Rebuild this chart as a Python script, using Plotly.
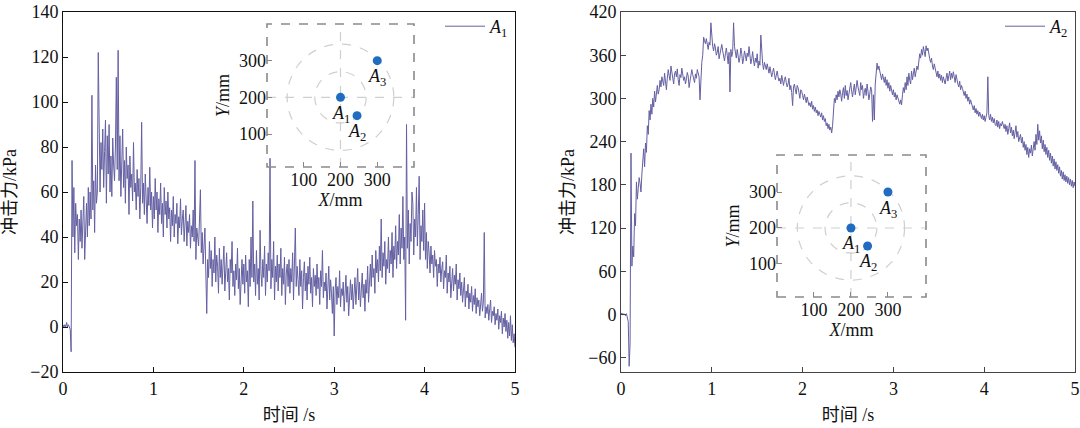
import numpy as np
import plotly.graph_objects as go

# ---------------- data ----------------
dt = 0.01
A1 = [
    1, 0, 1, 0, 2, 0, 1, 0, -1, -11, 74, 40, 62, 33, 55, 45, 50, 30, 48, 38,
    52, 35, 45, 58, 30, 42, 55, 40, 62, 45, 60, 48, 103, 52, 65, 42, 72, 55, 60, 122,
    97, 60, 82, 70, 88, 62, 78, 92, 55, 85, 68, 90, 60, 76, 58, 84, 72, 65, 80, 111,
    70, 123, 65, 85, 58, 78, 88, 62, 74, 55, 80, 66, 72, 50, 76, 62, 68, 56, 82, 60,
    64, 52, 70, 58, 66, 48, 62, 91, 55, 64, 50, 68, 58, 46, 62, 54, 71, 52, 60, 44,
    58, 48, 66, 52, 60, 42, 57, 50, 64, 46, 55, 40, 62, 50, 56, 44, 60, 48, 53, 38,
    52, 45, 58, 40, 50, 46, 55, 37, 49, 44, 57, 41, 48, 52, 38, 46, 54, 36, 47, 42,
    50, 35, 45, 40, 52, 38, 74, 30, 44, 40, 36, 48, 61, 33, 42, 28, 38, 44, 24, 6,
    30, 22, 38, 26, 34, 18, 30, 24, 40, 20, 32, 27, 15, 35, 22, 30, 19, 28, 36, 16,
    27, 33, 20, 26, 12, 30, 24, 38, 18, 25, 14, 28, 21, 35, 17, 26, 10, 24, 30, 19,
    28, 15, 32, 20, 25, 9, 30, 18, 40, 22, 56, 20, 28, 14, 34, 19, 26, 12, 43, 24,
    18, 30, 22, 36, 14, 28, 20, 33, 25, 75, 17, 30, 22, 38, 12, 27, 20, 32, 16, 28,
    22, 35, 14, 26, 19, 31, 10, 24, 28, 18, 30, 15, 26, 20, 33, 12, 25, 44, 18, 27,
    21, 14, 30, 18, 25, 8, 22, 29, 16, 24, 12, 27, 19, 31, 15, 22, 9, 26, 18, 23,
    14, 28, 17, 22, 10, 25, 18, 34, 13, 20, 16, 24, 8, 19, 27, 12, 21, 15, 6, 18,
    -4, 16, 22, 10, 18, 13, 25, 9, 17, 14, 20, 7, 15, 23, 11, 18, 5, 16, 21, 12,
    19, 8, 14, 22, 10, 17, 26, 12, 20, 9, 16, 24, 13, 19, 7, 21, 15, 27, 11, 20,
    28, 18, 32, 22, 26, 15, 34, 24, 30, 20, 36, 25, 48, 22, 33, 27, 38, 19, 30, 26,
    40, 24, 34, 28, 42, 22, 36, 30, 45, 26, 38, 32, 50, 28, 44, 35, 58, 30, 40, 3,
    90, 35, 52, 28, 46, 38, 60, 55, 32, 48, 40, 62, 36, 50, 67, 30, 45, 38, 52, 34,
    55, 30, 42, 26, 38, 33, 24, 36, 28, 32, 22, 34, 27, 30, 18, 28, 24, 31, 20, 26,
    29, 17, 25, 22, 32, 15, 24, 20, 27, 13, 22, 26, 16, 23, 19, 28, 12, 21, 17, 24,
    14, 20, 11, 18, 22, 9, 16, 13, 19, 8, 15, 11, 18, 7, 14, 10, 17, 6, 13, 9,
    12, 5, 10, 15, 7, 11, 42, 4, 9, 6, 10, 3, 8, 12, 2, 7, 5, 9, 1, 6,
    3, 8, -1, 5, 2, 7, -3, 4, 0, 6, -2, 3, -5, 2, -4, 5, -6, 1, -7, -3,
    -9,
]
A2 = [
    0, 2, -1, 1, 0, -2, 1, -3, -10, -72, -40, 224, 67, 95, 80, 140, 123, 184, 160, 175,
    190, 182, 170, 195, 210, 230, 205, 238, 225, 262, 250, 283, 270, 292, 278, 300, 288, 310, 295, 305,
    318, 306, 312, 325, 316, 330, 322, 318, 335, 326, 312, 328, 340, 332, 325, 345, 336, 328, 320, 334,
    338, 330, 341, 326, 318, 333, 329, 342, 336, 325, 330, 320, 327, 336, 331, 315, 324, 332, 340, 333,
    325, 322, 334, 328, 340, 336, 330, 298, 342, 350, 360, 385, 380, 376, 383, 372, 368, 378, 374, 405,
    378, 372, 366, 376, 370, 360, 364, 372, 355, 362, 370, 375, 366, 358, 352, 362, 370, 360, 348, 364,
    309, 368, 358, 365, 405, 372, 362, 356, 368, 360, 350, 357, 370, 362, 348, 355, 366, 360, 352, 363,
    358, 372, 360, 348, 355, 365, 352, 345, 356, 350, 362, 342, 352, 346, 388, 355, 348, 340, 350, 345,
    340, 348, 342, 335, 344, 338, 330, 336, 342, 334, 326, 332, 338, 330, 324, 328, 320, 332, 325, 318,
    326, 330, 322, 316, 320, 328, 312, 318, 308, 290, 316, 320, 312, 306, 318, 315, 308, 300, 312, 310,
    304, 298, 306, 300, 294, 302, 296, 290, 294, 288, 296, 285, 290, 282, 288, 280, 284, 276, 282, 278,
    274, 280, 270, 276, 268, 272, 262, 266, 258, 264, 256, 260, 252, 262, 288, 300, 294, 305, 298, 310,
    302, 312, 306, 296, 308, 315, 300, 318, 304, 311, 298, 306, 316, 322, 310, 302, 312, 320, 305, 318,
    325, 316, 310, 304, 322, 312, 318, 300, 308, 314, 304, 320, 310, 298, 306, 316, 312, 268, 305, 270,
    320, 335, 349, 340, 345, 338, 332, 326, 334, 328, 322, 330, 318, 326, 314, 322, 310, 318, 308, 305,
    312, 302, 308, 298, 305, 300, 295, 292, 298, 291, 305, 315, 308, 322, 312, 330, 318, 335, 325, 320,
    338, 326, 334, 342, 330, 336, 345, 340, 350, 362, 356, 368, 360, 372, 365, 358, 373, 366, 370, 360,
    355, 350, 356, 345, 340, 348, 342, 336, 330, 338, 328, 334, 325, 332, 322, 330, 326, 320, 328, 335,
    324, 332, 338, 326, 335, 328, 337, 330, 322, 333, 325, 320, 316, 324, 312, 318, 314, 308, 304, 310,
    300, 306, 296, 302, 292, 298, 294, 288, 284, 290, 280, 286, 278, 283, 275, 281, 276, 272, 278, 270,
    276, 268, 274, 280, 330, 276, 270, 278, 268, 274, 266, 272, 264, 262, 270, 260, 268, 258, 265, 262,
    268, 262, 258, 264, 254, 262, 250, 258, 266, 252, 260, 248, 256, 244, 252, 262, 246, 254, 240, 244,
    250, 238, 246, 232, 240, 228, 236, 222, 232, 218, 230, 224, 235, 220, 232, 240, 228, 250, 236, 264,
    242, 255, 238, 248, 230, 242, 226, 236, 222, 232, 218, 228, 214, 224, 210, 220, 206, 216, 202, 212,
    200, 208, 196, 205, 192, 200, 188, 198, 186, 194, 184, 192, 182, 190, 180, 188, 178, 186, 176, 184,
    178,
]
t1 = [round(i * dt, 2) for i in range(len(A1))]
t2 = [round(i * dt, 2) for i in range(len(A2))]

# sensor layout (inset)
sensor_names = ["<i>A</i><sub>1</sub>", "<i>A</i><sub>2</sub>", "<i>A</i><sub>3</sub>"]
sensor_x = [200, 245, 300]
sensor_y = [200, 150, 300]
circle_radii = [70, 145]
circle_center = (200, 200)

left_yticks = [-20, 0, 20, 40, 60, 80, 100, 120, 140]
right_yticks = [-60, 0, 60, 120, 180, 240, 300, 360, 420]
xticks = [0, 1, 2, 3, 4, 5]
inset_ticks = [100, 200, 300]

# ---------------- styling ----------------
W, H = 1080, 428
LINE = "#6460a2"
SERIF = "Liberation Serif, Times New Roman, Noto Sans CJK SC, serif"
FS = 18

def px_x(p):
    return p / W

def px_y(p):
    return 1 - p / H

fig = go.Figure()
fig.add_trace(go.Scatter(x=t1, y=A1, mode="lines", line=dict(color=LINE, width=1),
                         name="<i>A</i><sub>1</sub>", xaxis="x", yaxis="y", legend="legend"))
fig.add_trace(go.Scatter(x=t2, y=A2, mode="lines", line=dict(color=LINE, width=1),
                         name="<i>A</i><sub>2</sub>", xaxis="x2", yaxis="y2", legend="legend2"))

for xa, ya in (("x3", "y3"), ("x4", "y4")):
    fig.add_trace(go.Scatter(x=sensor_x, y=sensor_y, mode="markers",
                             marker=dict(color="#1f6cc0", size=9), showlegend=False,
                             xaxis=xa, yaxis=ya, hoverinfo="skip"))

main_ax = dict(ticks="inside", ticklen=5, showline=True, mirror=True, linewidth=1, automargin=False,
               showgrid=False, zeroline=False, tickfont=dict(family=SERIF, size=FS, color="#111"))

dom_y = [px_y(372), px_y(12)]
fig.update_layout(
    xaxis=dict(domain=[px_x(63), px_x(515)], range=[0, 5], tickvals=xticks, anchor="y",
               linecolor="#111", tickcolor="#111",
               title=dict(text="时间 /s", font=dict(family=SERIF, size=FS), standoff=10), **main_ax),
    yaxis=dict(domain=dom_y, range=[-20, 140], tickvals=left_yticks, anchor="x",
               linecolor="#111", tickcolor="#111",
               title=dict(text="冲击力/kPa", font=dict(family=SERIF, size=FS), standoff=8), **main_ax),
    xaxis2=dict(domain=[px_x(621), px_x(1075)], range=[0, 5], tickvals=xticks, anchor="y2",
                linecolor="#444", tickcolor="#444",
                title=dict(text="时间 /s", font=dict(family=SERIF, size=FS), standoff=10), **main_ax),
    yaxis2=dict(domain=dom_y, range=[-80, 420], tickvals=right_yticks, anchor="x2",
                linecolor="#444", tickcolor="#444",
                title=dict(text="冲击力/kPa", font=dict(family=SERIF, size=FS), standoff=8), **main_ax),
)

inset_ax = dict(ticks="inside", ticklen=5, tickcolor="#888", showline=False, showgrid=False,
                zeroline=False, automargin=False, tickvals=inset_ticks,
                tickfont=dict(family=SERIF, size=FS, color="#111"))
insets = [("x3", "y3", "xaxis3", "yaxis3", (267, 414, 24, 167), [0, 400], [10, 400]),
          ("x4", "y4", "xaxis4", "yaxis4", (777, 926, 155, 297), [0, 403], [8, 403])]
for xa, ya, xk, yk, (l, r, tp, b), xr, yr in insets:
    fig.update_layout({
        xk: dict(domain=[px_x(l), px_x(r)], range=xr, anchor=ya,
                 title=dict(text="<i>X</i>/mm", font=dict(family=SERIF, size=FS), standoff=2), **inset_ax),
        yk: dict(domain=[px_y(b), px_y(tp)], range=yr, anchor=xa,
                 title=dict(text="<i>Y</i>/mm", font=dict(family=SERIF, size=FS), standoff=4), **inset_ax),
    })
    cx, cy = circle_center
    for rr in circle_radii:
        fig.add_shape(type="circle", xref=xa, yref=ya, x0=cx - rr, x1=cx + rr, y0=cy - rr, y1=cy + rr,
                      line=dict(color="#cfcfcf", width=1.2, dash="dash"), layer="below")
    fig.add_shape(type="line", xref=xa, yref=ya, x0=xr[0], x1=xr[1], y0=cy, y1=cy,
                  line=dict(color="#cfcfcf", width=1.2, dash="dash"), layer="below")
    fig.add_shape(type="line", xref=xa, yref=ya, x0=cx, x1=cx, y0=yr[0], y1=yr[1],
                  line=dict(color="#cfcfcf", width=1.2, dash="dash"), layer="below")
    fig.add_shape(type="rect", xref=xa + " domain", yref=ya + " domain", x0=0, x1=1, y0=0, y1=1,
                  line=dict(color="#8a8a8a", width=1.6, dash="dash"))
    for nm, sx, sy in zip(sensor_names, sensor_x, sensor_y):
        fig.add_annotation(xref=xa, yref=ya, x=sx, y=sy, text=nm, showarrow=False, yshift=-17,
                           font=dict(family=SERIF, size=FS, color="#111"))

leg = dict(bgcolor="rgba(0,0,0,0)", borderwidth=0, font=dict(family=SERIF, size=FS, color="#111"),
           yanchor="top", xanchor="right", itemwidth=40, tracegroupgap=0)
fig.update_layout(
    legend=dict(x=px_x(514), y=px_y(8), **leg),
    legend2=dict(x=px_x(1074), y=px_y(8), **leg),
    width=W, height=H, margin=dict(l=0, r=0, t=0, b=0, autoexpand=False),
    paper_bgcolor="white", plot_bgcolor="rgba(0,0,0,0)",
    font=dict(family=SERIF, size=FS, color="#111"),
)

fig.write_html("out.html", config={"displayModeBar": False},
               post_script="document.body.style.margin='0';document.body.style.overflow='hidden';")
